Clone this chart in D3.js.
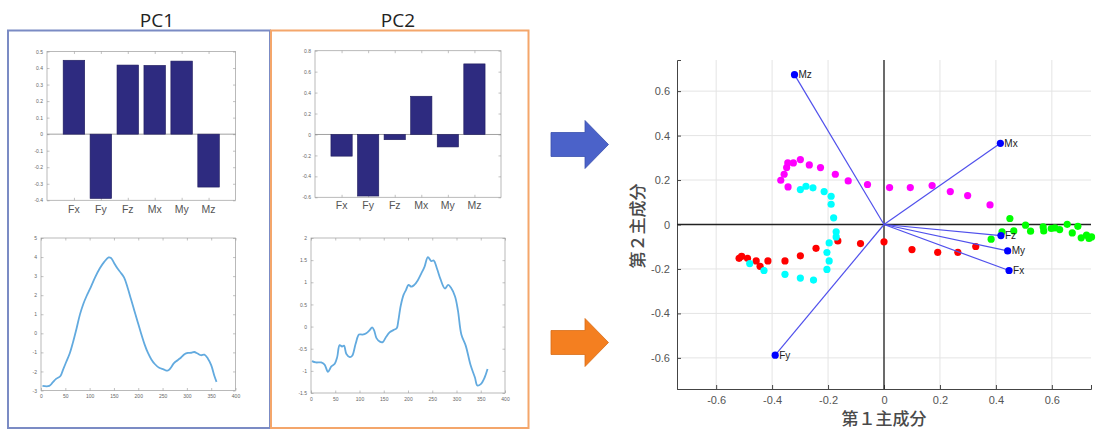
<!DOCTYPE html>
<html>
<head>
<meta charset="utf-8">
<script src="https://cdn.jsdelivr.net/npm/d3@7"></script>
<style>
  body { margin: 0; background: #fff; }
  svg { display: block; }
</style>
</head>
<body>
<div id="chart"></div>
<script>
// loadings per variable (PC1 / PC2)
var vars = ["Fx", "Fy", "Fz", "Mx", "My", "Mz"];
var pc1 = [0.447, -0.389, 0.418, 0.416, 0.442, -0.32];
var pc2 = [-0.207, -0.588, -0.05, 0.365, -0.119, 0.674];

var barTicks1 = [-0.4, -0.3, -0.2, -0.1, 0, 0.1, 0.2, 0.3, 0.4, 0.5];
var barTicks2 = [-0.6, -0.4, -0.2, 0, 0.2, 0.4, 0.6, 0.8];

// score time series
var t1 = [3, 17, 24, 31, 40, 45, 52, 59, 66, 73, 80, 87, 94, 102, 111, 121, 130, 139, 144, 150, 157, 164, 171, 178, 185, 192, 199, 206, 213, 220, 227, 234, 243, 252, 260, 266, 273, 281, 288, 295, 302, 309, 315, 322, 329, 336, 343, 350, 357, 361];
var s1 = [-2.76, -2.76, -2.58, -2.39, -2.24, -1.93, -1.49, -1.06, -0.45, 0.24, 0.98, 1.54, 1.97, 2.4, 2.92, 3.41, 3.75, 3.98, 3.95, 3.7, 3.41, 3.18, 2.92, 2.4, 1.8, 1.19, 0.58, -0.02, -0.58, -1.03, -1.37, -1.61, -1.81, -1.89, -1.96, -1.84, -1.58, -1.41, -1.27, -1.1, -1.03, -1.02, -0.98, -1.06, -1.15, -1.12, -1.32, -1.67, -2.27, -2.55];
var t2 = [2, 10, 21, 28, 35, 42, 49, 54, 59, 64, 68, 73, 80, 85, 92, 99, 106, 114, 121, 126, 130, 135, 142, 148, 155, 162, 170, 177, 180, 185, 191, 196, 201, 207, 213, 220, 227, 234, 241, 248, 253, 260, 267, 276, 283, 289, 297, 303, 310, 319, 329, 338, 343, 350, 358, 364];
var s2 = [-0.78, -0.81, -0.81, -0.86, -1.02, -0.9, -0.84, -0.69, -0.42, -0.45, -0.43, -0.62, -0.69, -0.66, -0.39, -0.18, -0.18, -0.15, -0.08, -0.02, -0.08, -0.26, -0.34, -0.35, -0.23, -0.13, -0.08, -0.03, 0.13, 0.47, 0.72, 0.83, 0.94, 0.9, 0.94, 1.04, 1.19, 1.35, 1.57, 1.48, 1.49, 1.3, 1.07, 0.86, 0.94, 0.87, 0.68, 0.36, -0.18, -0.43, -0.87, -1.15, -1.33, -1.3, -1.15, -0.96];
var lineTicksX = [0, 50, 100, 150, 200, 250, 300, 350, 400];
var lineTicks1 = [-3, -2, -1, 0, 1, 2, 3, 4, 5];
var lineTicks2 = [-1.5, -1, -0.5, 0, 0.5, 1, 1.5, 2];

// biplot scores
var scoreMagenta = [[-0.369, 0.199], [-0.357, 0.226], [-0.348, 0.256], [-0.344, 0.277], [-0.324, 0.277], [-0.299, 0.292], [-0.267, 0.268], [-0.227, 0.256], [-0.174, 0.226], [-0.128, 0.196], [-0.059, 0.18], [0.02, 0.166], [0.094, 0.166], [0.172, 0.175], [0.237, 0.148], [0.299, 0.13], [0.379, 0.088], [-0.343, 0.169]];
var scoreCyan = [[-0.299, 0.157], [-0.279, 0.172], [-0.254, 0.165], [-0.214, 0.148], [-0.189, 0.127], [-0.189, 0.091], [-0.18, 0.03], [-0.171, -0.033], [-0.171, -0.056], [-0.196, -0.083], [-0.204, -0.126], [-0.196, -0.164], [-0.204, -0.202], [-0.252, -0.25], [-0.299, -0.241], [-0.354, -0.224], [-0.429, -0.207], [-0.48, -0.176]];
var scoreRed = [[-0.518, -0.152], [-0.509, -0.143], [-0.488, -0.152], [-0.457, -0.164], [-0.443, -0.188], [-0.415, -0.164], [-0.354, -0.164], [-0.299, -0.141], [-0.243, -0.107], [-0.165, -0.074], [-0.084, -0.086], [0.0, -0.078], [0.1, -0.113], [0.192, -0.125], [0.264, -0.125], [0.328, -0.099]];
var scoreGreen = [[0.45, 0.027], [0.422, -0.033], [0.383, -0.066], [0.464, -0.029], [0.506, -0.003], [0.524, -0.03], [0.569, -0.011], [0.571, -0.029], [0.598, -0.018], [0.611, -0.015], [0.628, -0.023], [0.655, 0.001], [0.673, -0.038], [0.693, -0.008], [0.705, -0.06], [0.724, -0.048], [0.733, -0.063], [0.742, -0.056]];
var bipTicks = [-0.6, -0.4, -0.2, 0, 0.2, 0.4, 0.6];

var svg = d3.select("#chart").append("svg")
    .attr("width", 1098)
    .attr("height", 431);

function fmt(d) { return String(d); }

// ---- frames + titles
svg.append("rect").attr("x", 8).attr("y", 30.5).attr("width", 262).attr("height", 397.5)
    .attr("fill", "none").attr("stroke", "#7b8bc4").attr("stroke-width", 2);
svg.append("rect").attr("x", 271).attr("y", 30.5).attr("width", 257.5).attr("height", 397.5)
    .attr("fill", "none").attr("stroke", "#f4a66b").attr("stroke-width", 2);
svg.append("text").attr("x", 157).attr("y", 27).attr("text-anchor", "middle")
    .style("font", "19px 'Open Sans', sans-serif").attr("fill", "#222").text("PC1");
svg.append("text").attr("x", 398).attr("y", 27).attr("text-anchor", "middle")
    .style("font", "19px 'Open Sans', sans-serif").attr("fill", "#222").text("PC2");

function frameAxes(g, x, y, xt, yt, xLabels, yLabels) {
    var l = x.range()[0], r = x.range()[1], b = y.range()[0], t = y.range()[1];
    g.append("rect").attr("x", l).attr("y", t).attr("width", r - l).attr("height", b - t)
        .attr("fill", "#fff").attr("stroke", "#a8a8a8").attr("stroke-width", 0.8);
    var ax = [
        [d3.axisLeft(y).tickValues(yt), "translate(" + l + ",0)", yLabels],
        [d3.axisRight(y).tickValues(yt), "translate(" + r + ",0)", false],
        [d3.axisBottom(x).tickValues(xt), "translate(0," + b + ")", xLabels],
        [d3.axisTop(x).tickValues(xt), "translate(0," + t + ")", false]
    ];
    ax.forEach(function(a) {
        var sel = g.append("g").attr("transform", a[1])
            .call(a[0].tickSize(-2.5).tickPadding(4).tickFormat(a[2] ? fmt : ""));
        sel.select(".domain").remove();
        sel.selectAll("line").attr("stroke", "#999").attr("stroke-width", 0.6);
        sel.selectAll("text").attr("fill", "#666").style("font", "5px 'Liberation Sans', sans-serif");
    });
}

function barChart(l, r, t, b, vals, dom, ticks, labelY) {
    var g = svg.append("g");
    var x = d3.scaleLinear().domain([0, 7]).range([l, r]);
    var y = d3.scaleLinear().domain(dom).range([b, t]);
    frameAxes(g, x, y, [1, 2, 3, 4, 5, 6], ticks, false, true);
    g.append("line").attr("x1", l).attr("x2", r).attr("y1", y(0)).attr("y2", y(0))
        .attr("stroke", "#8a8a8a").attr("stroke-width", 0.8);
    g.selectAll("rect.bar").data(vals).enter().append("rect").attr("class", "bar")
        .attr("x", function(d, i) { return x(i + 0.6); })
        .attr("width", x(0.8) - x(0))
        .attr("y", function(d) { return y(Math.max(0, d)); })
        .attr("height", function(d) { return Math.abs(y(d) - y(0)); })
        .attr("fill", "#2e2b80").attr("stroke", "#1e1b5c").attr("stroke-width", 0.6);
    g.selectAll("text.lab").data(vars).enter().append("text").attr("class", "lab")
        .attr("x", function(d, i) { return x(i + 1); }).attr("y", labelY)
        .attr("text-anchor", "middle").attr("fill", "#555")
        .style("font", "10.5px 'Liberation Sans', sans-serif").text(function(d) { return d; });
}

barChart(47, 235.5, 51.5, 200.3, pc1, [-0.4, 0.5], barTicks1, 213);
barChart(315, 501, 50.7, 197.3, pc2, [-0.6, 0.8], barTicks2, 208.5);

function lineChart(l, r, t, b, xs, ys, dom, ticks) {
    var g = svg.append("g");
    var x = d3.scaleLinear().domain([0, 400]).range([l, r]);
    var y = d3.scaleLinear().domain(dom).range([b, t]);
    frameAxes(g, x, y, lineTicksX, ticks, true, true);
    var line = d3.line().x(function(d, i) { return x(xs[i]); }).y(function(d) { return y(d); })
        .curve(d3.curveCatmullRom);
    g.append("path").datum(ys).attr("d", line).attr("fill", "none")
        .attr("stroke", "#62aadf").attr("stroke-width", 1.8);
}

lineChart(41, 235.5, 238, 390.5, t1, s1, [-3, 5], lineTicks1);
lineChart(311, 505, 238, 393, t2, s2, [-1.5, 2], lineTicks2);

// ---- block arrows
function blockArrow(cy, color, stroke) {
    var p = d3.path();
    p.moveTo(551, cy - 12); p.lineTo(585, cy - 12); p.lineTo(585, cy - 24);
    p.lineTo(608.5, cy); p.lineTo(585, cy + 24); p.lineTo(585, cy + 12);
    p.lineTo(551, cy + 12); p.closePath();
    svg.append("path").attr("d", p.toString()).attr("fill", color)
        .attr("stroke", stroke).attr("stroke-width", 0.8);
}
blockArrow(144.5, "#4b62c9", "#3a50ad");
blockArrow(342.5, "#f47f20", "#d86d18");

// ---- biplot
var bx = d3.scaleLinear().domain([-0.74, 0.74]).range([677, 1091]);
var by = d3.scaleLinear().domain([-0.74, 0.74]).range([389, 60]);
var bip = svg.append("g");

bip.selectAll("line.gx").data(bipTicks).enter().append("line").attr("class", "gx")
    .attr("x1", function(d) { return bx(d); }).attr("x2", function(d) { return bx(d); })
    .attr("y1", by.range()[0]).attr("y2", by.range()[1])
    .attr("stroke", "#e4e4e4").attr("stroke-width", 1);
bip.selectAll("line.gy").data(bipTicks).enter().append("line").attr("class", "gy")
    .attr("y1", function(d) { return by(d); }).attr("y2", function(d) { return by(d); })
    .attr("x1", bx.range()[0]).attr("x2", bx.range()[1])
    .attr("stroke", "#e4e4e4").attr("stroke-width", 1);

var yAx = bip.append("g").attr("transform", "translate(677,0)")
    .call(d3.axisLeft(by).tickValues(bipTicks).tickSize(-4).tickPadding(7).tickFormat(fmt));
var xAx = bip.append("g").attr("transform", "translate(0,389)")
    .call(d3.axisBottom(bx).tickValues(bipTicks).tickSize(-4).tickPadding(7).tickFormat(fmt));
[yAx, xAx].forEach(function(a) {
    a.select(".domain").attr("stroke", "#444").attr("stroke-width", 1);
    a.selectAll("line").attr("stroke", "#444");
    a.selectAll("text").attr("fill", "#555").style("font", "11px 'Liberation Sans', sans-serif");
});

bip.append("line").attr("x1", bx(0)).attr("x2", bx(0)).attr("y1", by.range()[0]).attr("y2", by.range()[1])
    .attr("stroke", "#222").attr("stroke-width", 1.3);
bip.append("line").attr("y1", by(0)).attr("y2", by(0)).attr("x1", bx.range()[0]).attr("x2", bx.range()[1])
    .attr("stroke", "#222").attr("stroke-width", 1.3);

function dots(data, color) {
    bip.append("g").selectAll("circle").data(data).enter().append("circle")
        .attr("cx", function(d) { return bx(d[0]); }).attr("cy", function(d) { return by(d[1]); })
        .attr("r", 3.6).attr("fill", color);
}
dots(scoreRed, "#ff0000");
dots(scoreMagenta, "#ff00ff");
dots(scoreCyan, "#00ffff");
dots(scoreGreen, "#00ff00");

bip.selectAll("line.vec").data(vars).enter().append("line").attr("class", "vec")
    .attr("x1", bx(0)).attr("y1", by(0))
    .attr("x2", function(d, i) { return bx(pc1[i]); }).attr("y2", function(d, i) { return by(pc2[i]); })
    .attr("stroke", "#5050ec").attr("stroke-width", 1.2);
bip.selectAll("circle.vec").data(vars).enter().append("circle").attr("class", "vec")
    .attr("cx", function(d, i) { return bx(pc1[i]); }).attr("cy", function(d, i) { return by(pc2[i]); })
    .attr("r", 3.6).attr("fill", "#0000ff");
bip.selectAll("text.vec").data(vars).enter().append("text").attr("class", "vec")
    .attr("x", function(d, i) { return bx(pc1[i]) + 4; }).attr("y", function(d, i) { return by(pc2[i]) + 3.5; })
    .attr("fill", "#222").style("font", "10px 'Liberation Sans', sans-serif")
    .text(function(d) { return d; });

svg.append("text").attr("transform", "translate(644,226) rotate(-90)").attr("text-anchor", "middle")
    .attr("fill", "#4a4a4a").style("font", "500 17px 'Noto Sans CJK JP', sans-serif").text("第２主成分");
svg.append("text").attr("x", 884).attr("y", 425).attr("text-anchor", "middle")
    .attr("fill", "#4a4a4a").style("font", "500 17px 'Noto Sans CJK JP', sans-serif").text("第１主成分");
</script>
</body>
</html>
